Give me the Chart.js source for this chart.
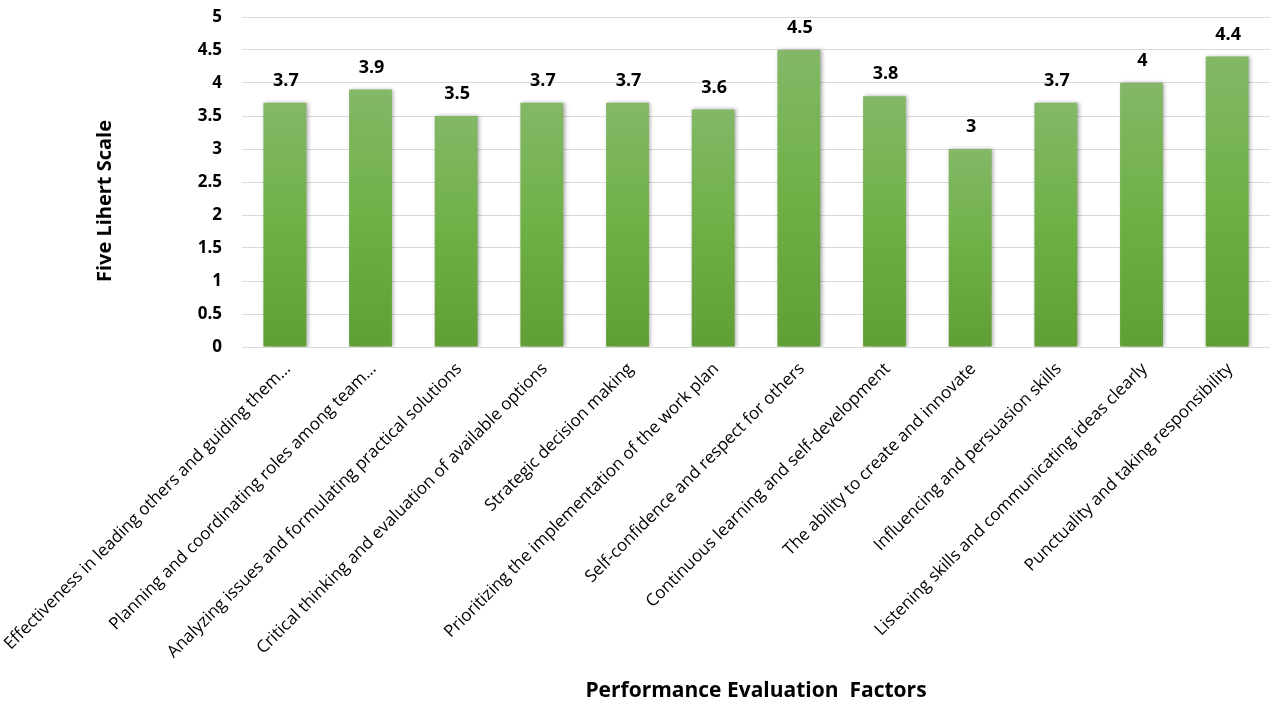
<!DOCTYPE html>
<html><head><meta charset="utf-8">
<script src="https://cdn.jsdelivr.net/npm/chart.js@4.4.1/dist/chart.umd.min.js"></script>
<style>html,body{margin:0;padding:0;background:#fff;overflow:hidden}canvas{display:block}</style>
</head><body>
<canvas id="c" width="1273" height="704"></canvas>
<script>
const categories = [
  "Effectiveness in leading others and guiding them\u2026",
  "Planning and coordinating roles among team\u2026",
  "Analyzing issues and formulating practical solutions",
  "Critical thinking and evaluation of available options",
  "Strategic decision making",
  "Prioritizing the implementation of the work plan",
  "Self-confidence and respect for others",
  "Continuous learning and self-development",
  "The ability to create and innovate",
  "Influencing and persuasion skills",
  "Listening skills and communicating ideas clearly",
  "Punctuality and taking responsibility"
];
const values = [3.7, 3.9, 3.5, 3.7, 3.7, 3.6, 4.5, 3.8, 3.0, 3.7, 4.0, 4.4];
const yTickValues = [0, 0.5, 1, 1.5, 2, 2.5, 3, 3.5, 4, 4.5, 5];
const yTitle = "Five Lihert Scale";
const xTitle = "Performance Evaluation  Factors";

const FONT = '"Open Sans", "Liberation Sans", sans-serif';
const CHART_LEFT = 242;
const CHART_BOTTOM = 347;
const H = 704;

const valueLabels = {
  id: 'valueLabels',
  afterDatasetsDraw(chart) {
    const ctx = chart.ctx;
    const meta = chart.getDatasetMeta(0);
    ctx.save();
    ctx.font = 'bold 18px ' + FONT;
    ctx.fillStyle = '#000';
    ctx.textAlign = 'center';
    ctx.textBaseline = 'middle';
    meta.data.forEach((bar, i) => {
      ctx.fillText(String(values[i]), bar.x + 1, bar.y - 22);
    });
    ctx.restore();
  }
};
const yAxisTitle = {
  id: 'yAxisTitle',
  afterDraw(chart) {
    const ctx = chart.ctx;
    const area = chart.chartArea;
    ctx.save();
    ctx.translate(105, (area.top + area.bottom) / 2 + 19);
    ctx.rotate(-Math.PI / 2);
    ctx.font = 'bold 20px ' + FONT;
    ctx.fillStyle = '#000';
    ctx.textAlign = 'center';
    ctx.textBaseline = 'middle';
    ctx.fillText(yTitle, 0, 0);
    ctx.restore();
  }
};
const barShadow = {
  id: 'barShadow',
  beforeDatasetDraw(chart) {
    const ctx = chart.ctx;
    ctx.save();
    ctx.shadowColor = 'rgba(0,0,0,0.35)';
    ctx.shadowBlur = 4;
    ctx.shadowOffsetX = 1.5;
    ctx.shadowOffsetY = 0;
  },
  afterDatasetDraw(chart) { chart.ctx.restore(); }
};

new Chart(document.getElementById('c'), {
  type: 'bar',
  data: {
    labels: categories,
    datasets: [{
      data: values,
      barPercentage: 0.5,
      categoryPercentage: 1.0,
      borderWidth: 0,
      backgroundColor: (c) => {
        const chart = c.chart;
        const y = chart.scales && chart.scales.y;
        if (!chart.chartArea || !y || c.parsed === undefined) return '#70ad47';
        const top = y.getPixelForValue(c.parsed.y);
        const bottom = y.getPixelForValue(0);
        const g = chart.ctx.createLinearGradient(0, top, 0, bottom);
        g.addColorStop(0, '#83b867');
        g.addColorStop(0.5, '#6fb046');
        g.addColorStop(1, '#5f9f35');
        return g;
      }
    }]
  },
  options: {
    responsive: false,
    animation: false,
    devicePixelRatio: 1,
    layout: { padding: { top: 17, right: 3, left: 0, bottom: 0 } },
    plugins: { legend: { display: false }, tooltip: { enabled: false } },
    scales: {
      x: {
        grid: { display: false },
        border: { display: false },
        ticks: {
          autoSkip: false, maxRotation: 45, minRotation: 45, labelOffset: 3,
          color: '#000', font: { family: FONT, size: 17 }, padding: 4
        },
        title: {
          display: true, text: xTitle, color: '#000',
          font: { family: FONT, size: 21, weight: 'bold' },
          padding: { top: 0, bottom: 0 }
        },
        afterFit(s) { s.height = H - CHART_BOTTOM; s.paddingLeft = 0; s.paddingRight = 0; }
      },
      y: {
        min: 0, max: 5,
        afterBuildTicks(s) { s.ticks = yTickValues.map(v => ({ value: v })); },
        ticks: {
          color: '#000', font: { family: FONT, size: 17, weight: 'bold' }, padding: 20,
          callback: (v) => String(v)
        },
        grid: { color: '#d9d9d9', lineWidth: 1, drawTicks: false },
        border: { display: false },
        title: { display: false, text: yTitle },
        afterFit(s) { s.width = CHART_LEFT; s.paddingTop = 0; s.paddingBottom = 0; }
      }
    }
  },
  plugins: [barShadow, valueLabels, yAxisTitle]
});
</script>
</body></html>
